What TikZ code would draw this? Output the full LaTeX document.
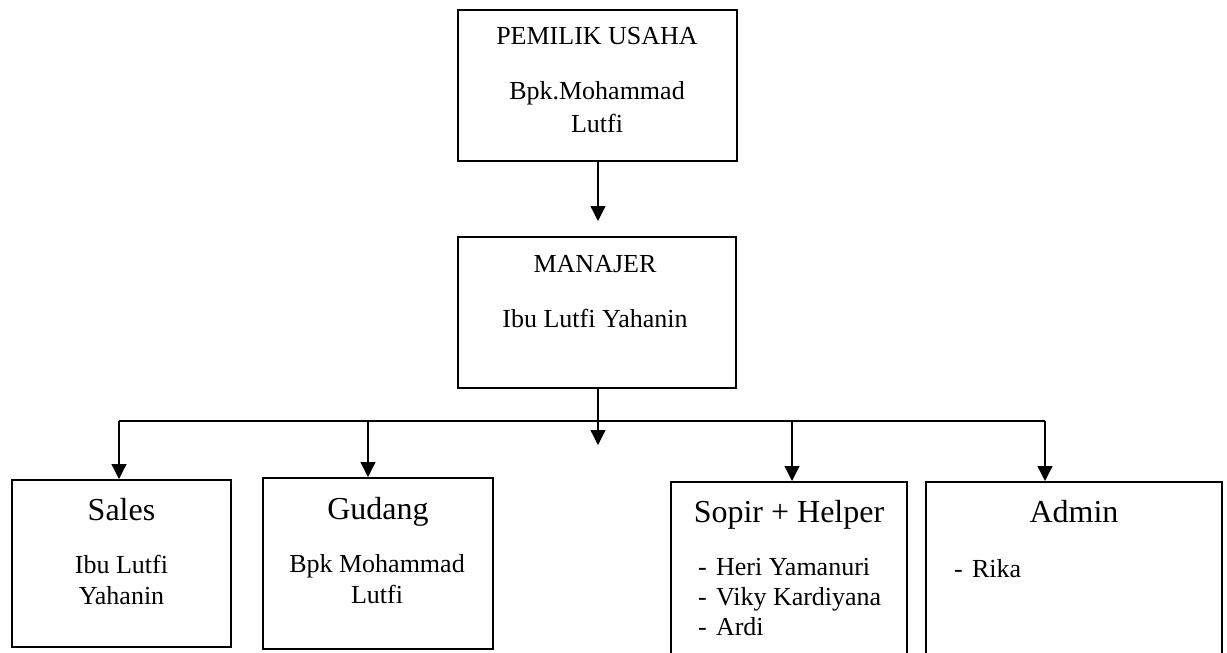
\documentclass[tikz,border=0pt]{standalone}
\usepackage{fontspec}
\setmainfont{Liberation Serif}
\usetikzlibrary{arrows.meta}
\tikzset{kotak/.style={draw,line width=1pt,inner sep=0pt},
  judul/.style={anchor=base,font=\fontsize{16}{19}\selectfont},
  isi/.style={anchor=base,align=center,font=\fontsize{13}{15.5}\selectfont},
  daftar/.style={anchor=base west,align=left,font=\fontsize{13}{15}\selectfont},
  panah/.style={-{Triangle[width=7.5pt,length=7.5pt]},line width=0.65pt}}
\newcommand{\butir}[1]{\makebox[9pt][l]{-}#1}

\begin{document}
\begin{tikzpicture}[x=0.5pt,y=-0.5pt]
    \useasboundingbox (0,0) rectangle (1227,653);
    \clip (0,0) rectangle (1227,653);

    % kotak
    \node[kotak,minimum width=139.5pt,minimum height=75.5pt] (pemilik) at (597.5,85.5) {};
    \node[kotak,minimum width=139pt,minimum height=75.5pt] (manajer) at (596.5,312.5) {};
    \node[kotak,minimum width=109.5pt,minimum height=83.5pt] (sales) at (121.5,563.5) {};
    \node[kotak,minimum width=115pt,minimum height=85.5pt] (gudang) at (378,563.5) {};
    \node[kotak,minimum width=118pt,minimum height=94pt] (sopir) at (789,576) {};
    \node[kotak,minimum width=148pt,minimum height=94pt] (admin) at (1074,576) {};

    % teks (base = baris terakhir)
    \node[isi] (tPemilik) at (597,45) {PEMILIK USAHA};
    \node[isi] (nPemilik) at (597,132) {Bpk.Mohammad\\[1pt]Lutfi};
    \node[isi] (tManajer) at (595,272) {MANAJER};
    \node[isi] (nManajer) at (595,327) {Ibu Lutfi Yahanin};
    \node[judul] (tSales) at (121.5,520) {Sales};
    \node[isi] (nSales) at (121.5,604) {Ibu Lutfi\\Yahanin};
    \node[judul] (tGudang) at (378,519) {Gudang};
    \node[isi] (nGudang) at (377,603) {Bpk Mohammad\\Lutfi};
    \node[judul] (tSopir) at (789,522) {Sopir + Helper};
    \node[daftar] (nSopir) at (691,635) {\butir{Heri Yamanuri}\\\butir{Viky Kardiyana}\\\butir{Ardi}};
    \node[judul] (tAdmin) at (1074,522) {Admin};
    \node[daftar] (nAdmin) at (947,577) {\butir{Rika}};

    % garis
    \coordinate (bSales) at (119,421);
    \coordinate (bGudang) at (368,421);
    \coordinate (bSopir) at (792,421);
    \coordinate (bAdmin) at (1045,421);
    \coordinate (ujung) at (598,445);

    \draw[panah,shorten >=7.5pt] (pemilik.south -| ujung) -- (manajer.north -| ujung);
    \draw[panah] (manajer.south -| ujung) -- (ujung);
    \draw[line width=0.65pt] (bSales) -- (bAdmin);
    \draw[panah] (bSales) -- (bSales |- sales.north);
    \draw[panah] (bGudang) -- (bGudang |- gudang.north);
    \draw[panah] (bSopir) -- (bSopir |- sopir.north);
    \draw[panah] (bAdmin) -- (bAdmin |- admin.north);
\end{tikzpicture}
\end{document}
